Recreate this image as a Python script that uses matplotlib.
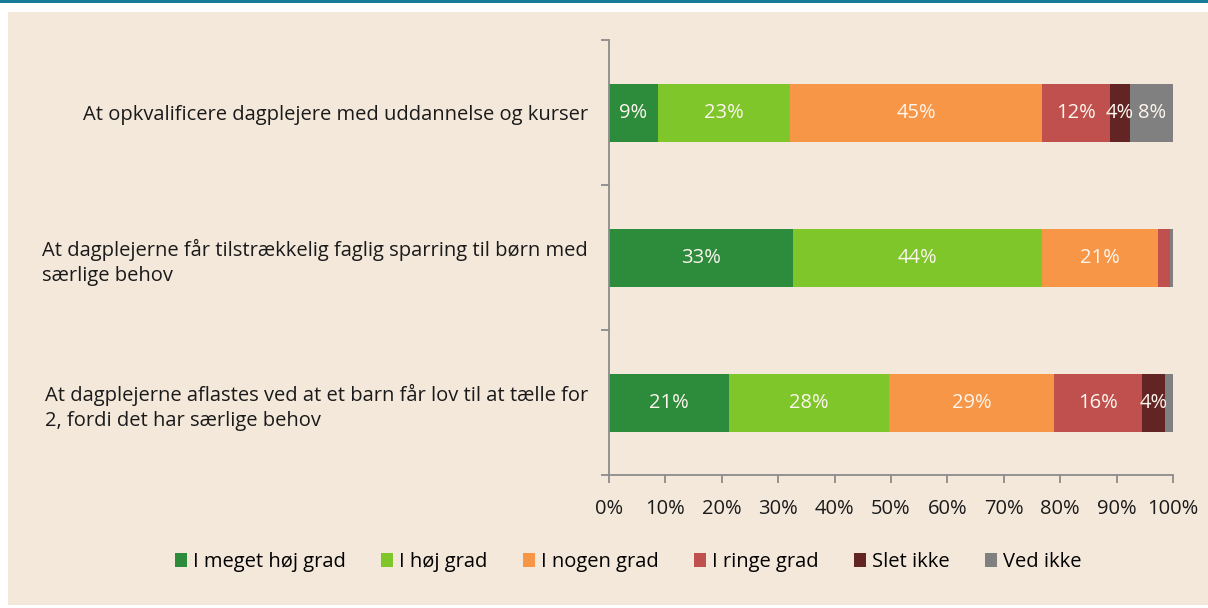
import numpy as np
import matplotlib
matplotlib.use("Agg")
import matplotlib.pyplot as plt
from matplotlib.patches import Rectangle

plt.rcParams['font.family'] = ['Open Sans', 'DejaVu Sans']

# data
categories = [
    "At opkvalificere dagplejere med uddannelse og kurser",
    "At dagplejerne får tilstrækkelig faglig sparring til børn med\nsærlige behov",
    "At dagplejerne aflastes ved at et barn får lov til at tælle for\n2, fordi det har særlige behov",
]
series_names = ["I meget høj grad", "I høj grad", "I nogen grad", "I ringe grad", "Slet ikke", "Ved ikke"]
meget_hoej = [8.7, 32.6, 21.3]
hoej = [23.4, 44.2, 28.3]
nogen = [44.7, 20.6, 29.3]
ringe = [12.0, 2.1, 15.6]
slet_ikke = [3.6, 0.0, 4.1]
ved_ikke = [7.6, 0.5, 1.4]
series = [meget_hoej, hoej, nogen, ringe, slet_ikke, ved_ikke]
colors = ["#2C8C3B", "#7EC629", "#F79646", "#C0504D", "#632523", "#808080"]

bg = "#F4E8DB"
fig = plt.figure(figsize=(12.08, 6.08), dpi=100, facecolor="white")
fig.add_artist(Rectangle((8 / 1208, 0.005), 1, 1 - 12 / 608 - 0.005, transform=fig.transFigure,
                         facecolor=bg, edgecolor="none", zorder=-10))
fig.add_artist(Rectangle((0, 1 - 3 / 608), 1, 3 / 608, transform=fig.transFigure,
                         facecolor="#167C96", edgecolor="none", zorder=-10))

ax = fig.add_axes([609 / 1208, 1 - 475 / 608, 564 / 1208, 435 / 608])
ax.set_facecolor("none")

y = np.arange(len(categories))
left = np.zeros(len(categories))
for name, vals, c in zip(series_names, series, colors):
    vals = np.array(vals)
    ax.barh(y, vals, left=left, height=0.4, color=c, label=name, edgecolor="none")
    for yi, l, v in zip(y, left, vals):
        if v >= 3:
            ax.text(l + v / 2, yi, f"{v:.0f}%", ha="center", va="center",
                    color="#FDF5EE", fontsize=14.5)
    left += vals

ax.set_xlim(0, 100)
ax.set_ylim(2.5, -0.5)
ax.set_xticks(np.arange(0, 101, 10))
ax.set_xticklabels([f"{t}%" for t in range(0, 101, 10)], fontsize=14.5, color="#1a1a1a")
ax.set_yticks(y)
ax.set_yticklabels(categories, fontsize=14.5, color="#1a1a1a", ha="right", linespacing=1.3)
for lbl in ax.get_yticklabels():
    lbl.set_multialignment("left")
ax.set_yticks([-0.5, 0.5, 1.5, 2.5], minor=True)
ax.tick_params(axis="y", which="major", length=0, pad=15)
ax.tick_params(axis="y", which="minor", length=6, color="#8c8c8c", width=1.3)
ax.tick_params(axis="x", length=6, color="#8c8c8c", width=1.3, pad=11)
for s in ["top", "right"]:
    ax.spines[s].set_visible(False)
for s in ["left", "bottom"]:
    ax.spines[s].set_color("#8c8c8c")
    ax.spines[s].set_linewidth(1.3)

fig.legend(loc="center", bbox_to_anchor=(0.52, 1 - 562 / 608), ncol=6, frameon=False,
           fontsize=14.5, handlelength=0.6, handleheight=0.75, handletextpad=0.3,
           columnspacing=1.75)

fig.savefig("out.png", dpi=100, facecolor="white")
